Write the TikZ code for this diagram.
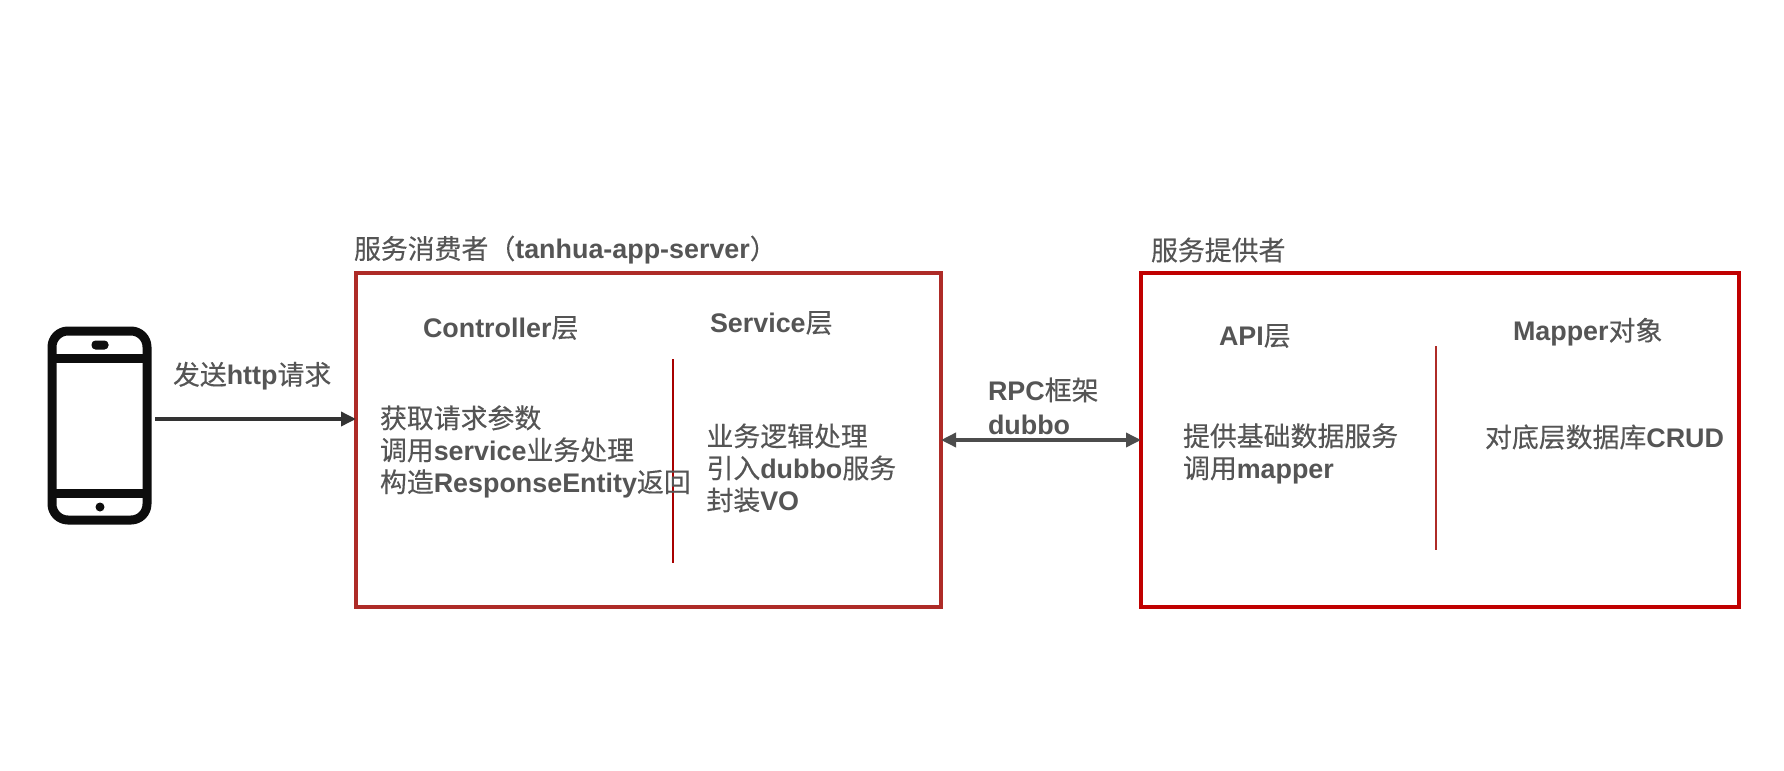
\documentclass[tikz,border=0pt]{standalone}
\usepackage{fontspec}
\setmainfont{Liberation Sans}
\newfontfamily\cjk[FakeBold=0.3]{Noto Sans CJK SC}
\usetikzlibrary{arrows.meta}
\definecolor{txtgray}{HTML}{555555}
\definecolor{boxone}{HTML}{AE2B27}
\definecolor{boxtwo}{HTML}{C00000}
\definecolor{sepred}{HTML}{A80000}
\newcommand{\zh}[1]{{\normalfont\cjk #1}}
\tikzset{
  lab/.style={anchor=west,inner sep=0pt,outer sep=0pt,text=txtgray,align=left,
    font=\fontsize{7.65pt}{9.1pt}\selectfont\bfseries},
  layerbox/.style={draw,line width=.035cm,inner sep=0pt,outer sep=0pt},
  sepline/.style={line width=.02cm},
  link/.style={line width=.035cm},
  phonepart/.style={draw=black!95,line width=.09cm}
}
\begin{document}
\begin{tikzpicture}
\useasboundingbox (0,0) rectangle (17.84,7.70);
% phone
\node[phonepart,rounded corners=.16cm,minimum width=.95cm,minimum height=1.89cm,inner sep=0pt,outer sep=0pt] (phone) at (.995,3.445) {};
\coordinate (phonetop) at (.995,4.12);
\coordinate (phonebot) at (.995,2.77);
\draw[phonepart] (phone.west |- phonetop) -- (phone.east |- phonetop);
\draw[phonepart] (phone.west |- phonebot) -- (phone.east |- phonebot);
\node[fill=black!95,rounded corners=.04cm,minimum width=.17cm,minimum height=.09cm,inner sep=0pt] (speaker) at (1.0,4.25) {};
\node[fill=black!95,circle,minimum size=.09cm,inner sep=0pt] (homekey) at (1.0,2.63) {};
% boxes
\node[layerbox,draw=boxone,minimum width=5.85cm,minimum height=3.34cm] (consumer) at (6.485,3.30) {};
\node[layerbox,draw=boxtwo,minimum width=5.98cm,minimum height=3.34cm] (provider) at (14.40,3.30) {};
\coordinate (septopa) at (6.73,4.11);
\coordinate (sepbota) at (6.73,2.07);
\coordinate (septopb) at (14.36,4.24);
\coordinate (sepbotb) at (14.36,2.20);
\draw[sepline,draw=sepred] (septopa) -- (sepbota);
\draw[sepline,draw=boxone] (septopb) -- (sepbotb);
% arrows
\coordinate (reqstart) at (1.55,3.51);
\coordinate (rpcmid) at (10.41,3.30);
\draw[link,draw=black!80,-{Triangle[length=.15cm,width=.14cm]}] (reqstart) -- (reqstart -| consumer.west);
\draw[link,draw=black!70,{Triangle[length=.15cm,width=.14cm]}-{Triangle[length=.15cm,width=.14cm]}] (rpcmid -| consumer.east) -- (rpcmid -| provider.west);
% labels
\node[lab] (consumertitle) at (3.54,5.20) {\zh{服务消费者（}tanhua-app-server\zh{）}};
\node[lab] (providertitle) at (11.51,5.20) {\zh{服务提供者}};
\node[lab] (sendlabel) at (1.73,3.94) {\zh{发送}http\zh{请求}};
\node[lab] (ctrlhead) at (4.23,4.42) {Controller\zh{层}};
\node[lab] (ctrltext) at (3.80,3.185) {\zh{获取请求参数}\\\zh{调用}service\zh{业务处理}\\\zh{构造}ResponseEntity\zh{返回}};
\node[lab] (servhead) at (7.10,4.47) {Service\zh{层}};
\node[lab] (servtext) at (7.065,3.02) {\zh{业务逻辑处理}\\\zh{引入}dubbo\zh{服务}\\\zh{封装}VO};
\node[lab] (rpclabel) at (9.88,3.64) {RPC\zh{框架}\\[.6pt]dubbo};
\node[lab] (apihead) at (12.19,4.34) {API\zh{层}};
\node[lab] (apitext) at (11.83,3.165) {\zh{提供基础数据服务}\\\zh{调用}mapper};
\node[lab] (maphead) at (15.13,4.38) {Mapper\zh{对象}};
\node[lab] (maptext) at (14.85,3.33) {\zh{对底层数据库}CRUD};
\end{tikzpicture}
\end{document}
